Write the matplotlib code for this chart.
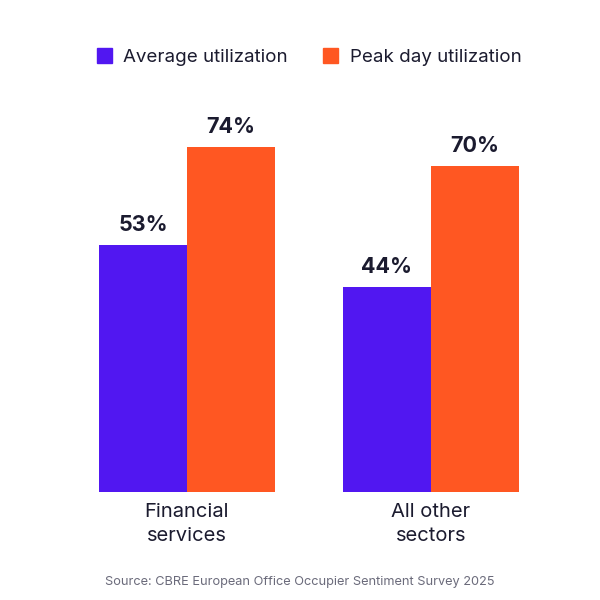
import matplotlib.pyplot as plt
import numpy as np
from matplotlib.patches import Patch

plt.rcParams['font.family'] = ['Inter', 'DejaVu Sans']

categories = ["Financial\nservices", "All other\nsectors"]
series_names = ["Average utilization", "Peak day utilization"]
average = [53, 44]
peak = [74, 70]

purple = "#5117F1"
orange = "#FF5722"
dark = "#1B1B2F"

fig = plt.figure(figsize=(6, 6), dpi=100)
ax = fig.add_axes([99 / 600, 1 - 492 / 600, 420 / 600, 373 / 600])

x = np.arange(len(categories))
w = 88 / 244
b1 = ax.bar(x - w / 2, average, w, color=purple)
b2 = ax.bar(x + w / 2, peak, w, color=orange)

for bars in (b1, b2):
    for bar in bars:
        h = bar.get_height()
        ax.annotate(f"{h:.0f}%", (bar.get_x() + bar.get_width() / 2, h),
                    xytext=(0, 7), textcoords="offset points",
                    ha="center", va="bottom", fontsize=15.5,
                    fontweight="bold", color=dark)

ax.set_xlim(-w, 1 + w)
ax.set_ylim(0, 80)
ax.set_xticks(x)
ax.set_xticklabels(categories, fontsize=14.5, color=dark, linespacing=1.45)
ax.tick_params(axis="x", length=0, pad=8)
ax.set_yticks([])
for s in ax.spines.values():
    s.set_visible(False)

handles = [Patch(color=purple), Patch(color=orange)]
fig.legend(handles, series_names, loc="center", bbox_to_anchor=(309 / 600, 1 - 57 / 600),
           ncol=2, frameon=False, fontsize=13.5, handlelength=0.8, handleheight=0.8,
           handletextpad=0.6, columnspacing=1.9, labelcolor=dark)

fig.text(0.5, 1 - 582 / 600, "Source: CBRE European Office Occupier Sentiment Survey 2025",
         ha="center", va="center", fontsize=9.2, color="#6B6B7B")

fig.savefig("out.png", dpi=100, facecolor="white")
